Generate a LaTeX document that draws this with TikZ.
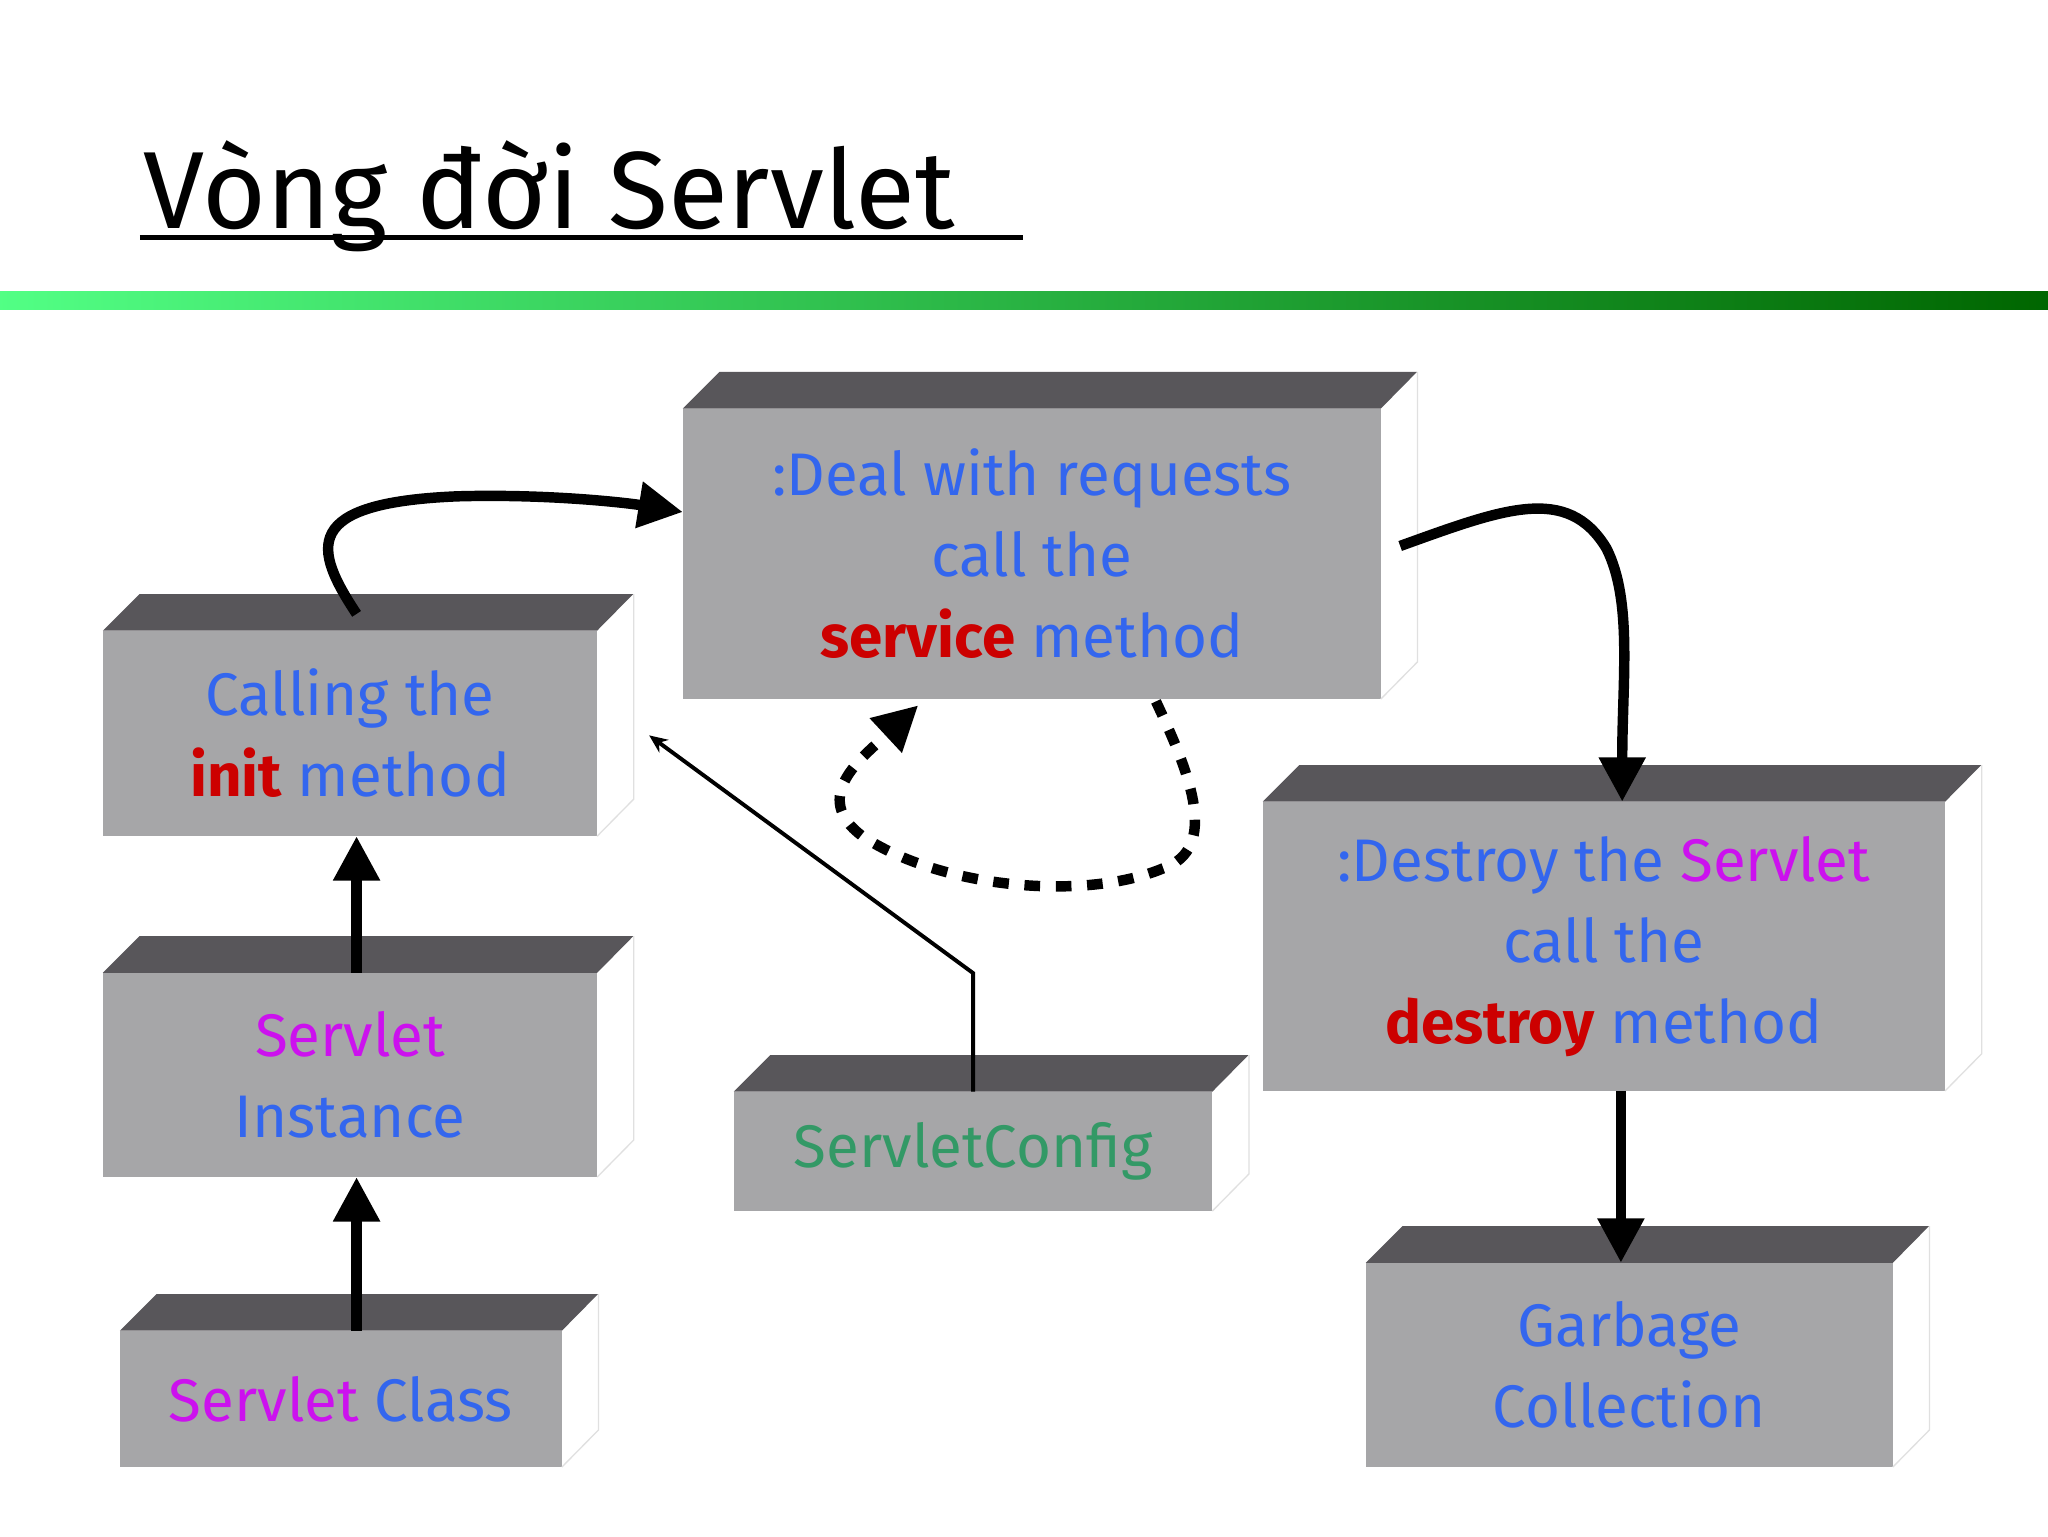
\documentclass[tikz,border=0pt]{standalone}
\usepackage{fontspec}
\setmainfont{Fira Sans}
\usetikzlibrary{arrows.meta,shadings}
\definecolor{fg}{HTML}{A6A6A8}
\definecolor{tp}{HTML}{58565A}
\definecolor{tb}{HTML}{3366EE}
\definecolor{tm}{HTML}{CC11EE}
\definecolor{tr}{HTML}{CC0000}
\definecolor{tg}{HTML}{339966}
\tikzset{
 box/.style={fill=fg,inner sep=0pt,align=center,font=\fontsize{46}{62}\selectfont,text=tb},
 big/.style={line width=8pt,-{Triangle[length=34pt,width=34pt]}},
}
\newcommand\mybox[6]{% name, x1,y1,x2,y2,text
 \node[box,minimum width=#4-#2,minimum height=#5-#3] (#1) at ({(#2+#4)/2},{(#3+#5)/2}) {#6};
 \fill[tp] (#1.north west) -- ++(28,-28) -- ++(#4-#2,0) -- (#1.north east) -- cycle;
 \draw[black!12,line width=1pt] (#1.north east) ++(28,-28) -- ++(0,#5-#3) -- (#1.south east);
}
\begin{document}
\begin{tikzpicture}[x=1pt,y=-1pt]
\useasboundingbox (0,0) rectangle (1568,1176);
\fill[white] (0,0) rectangle (1568,1176);
\node[anchor=base west,inner sep=0pt,font=\fontsize{84}{90}\selectfont] (title) at (110,175) {Vòng đời Servlet};
\draw[line width=4pt] (107,182) -- (783,182);
\shade[left color=green!60!white!80!cyan, right color=black!60!green] (0,223) rectangle (1568,237);
\mybox{deal}{523}{313}{1057}{535}{:Deal with requests\\call the\\\textcolor{tr}{\bfseries service} method}
\mybox{init}{79}{483}{457}{640}{Calling the\\\textcolor{tr}{\bfseries init} method}
\mybox{inst}{79}{745}{457}{901}{\textcolor{tm}{Servlet}\\Instance}
\mybox{cls}{92}{1019}{430}{1123}{\textcolor{tm}{Servlet} Class}
\mybox{cfg}{562}{836}{928}{927}{\textcolor{tg}{ServletConfig}}
\mybox{dest}{967}{614}{1489}{835}{:Destroy the \textcolor{tm}{Servlet}\\call the\\\textcolor{tr}{\bfseries destroy} method}
\mybox{gc}{1046}{967}{1449}{1123}{Garbage\\Collection}
\draw[big] (273,470) .. controls (240,420) and (230,385) .. (350,380) .. controls (420,378) and (480,385) .. (deal.west |- 0,392);
\draw[big] (1072,418) .. controls (1150,390) and (1200,370) .. (1230,420) .. controls (1250,460) and (1242,520) .. (dest.north -| 1242,0);
\draw[big] (inst.north -| 273,0) -- (init.south -| 273,0);
\draw[big] (cls.north -| 273,0) -- (inst.south -| 273,0);
\draw[big] (dest.south -| 1241,0) -- (gc.north -| 1241,0);
\coordinate (c1) at (745,745);
\draw[line width=3pt,-{Stealth[length=14pt,width=12pt]}] (cfg.north -| 745,0) -- (c1) -- (497,563);
\draw[line width=8pt,dash pattern=on 12pt off 12pt,-{Triangle[length=34pt,width=34pt]}] (885,537) .. controls (910,590) and (935,650) .. (890,665) .. controls (830,690) and (720,680) .. (660,640) .. controls (620,610) and (660,580) .. (703,540);
\end{tikzpicture}
\end{document}
